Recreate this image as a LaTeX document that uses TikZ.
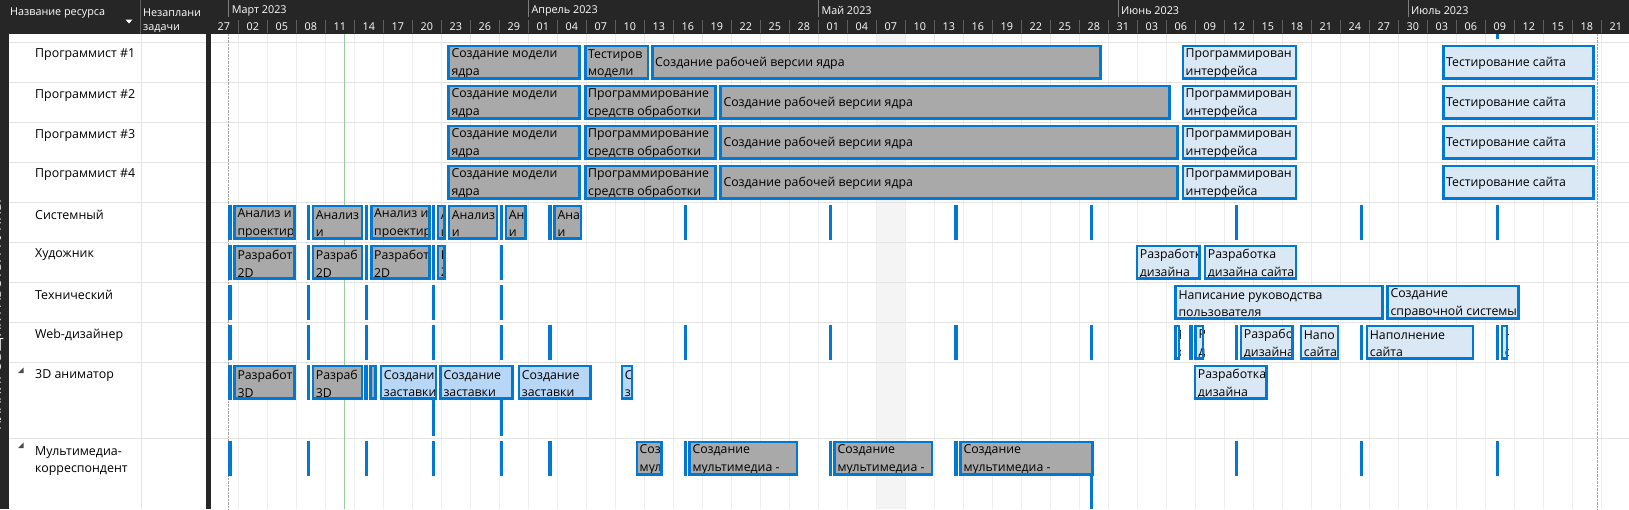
\documentclass[tikz,border=0pt]{standalone}
\usepackage{fontspec}
\setmainfont{Open Sans}
\usepackage{tikz}
\usetikzlibrary{positioning}
\usepackage{xcolor}
\definecolor{hdrdark}{HTML}{262626}
\definecolor{hdrsep}{HTML}{5E5E5E}
\definecolor{gridgray}{HTML}{EDEDED}
\definecolor{rowgray}{HTML}{E4E4E4}
\definecolor{msblue}{HTML}{0078D4}
\definecolor{taskgray}{HTML}{A9A9A9}
\definecolor{tasklight}{HTML}{DAE8F6}
\definecolor{tasksel}{HTML}{B8D6F6}
\definecolor{todaygreen}{HTML}{9ACB9A}
\definecolor{shadecol}{HTML}{F4F4F4}

\newcounter{barno}
% one task bar: left, right, top, fill, text
\newcommand{\taskbar}[5]{%
  \stepcounter{barno}%
  \begin{scope}
    \clip (#1,#3) rectangle (#2,#3+35);
    \fill[#4] (#1,#3) rectangle (#2,#3+35);
    \node[bartext] (bar\thebarno) at (#1+4,#3+19) {#5};
  \end{scope}
  \draw[barline] (#1+1.3,#3+1.3) rectangle (#2-1.3,#3+33.7);
}

\begin{document}
\begin{tikzpicture}[x=1pt, y=-1pt,
  bartext/.style = {anchor=west, inner sep=0, align=left, text=black, font=\fontsize{12.3}{17.5}\selectfont},
  barline/.style = {draw=msblue, line width=2.6pt},
  gray/.style = {fill=taskgray}, light/.style = {fill=tasklight}, sel/.style = {fill=tasksel},
  tick/.style = {draw=msblue, line width=3.3pt},
  hdrtext/.style = {text=white, inner sep=0, font=\fontsize{10.8}{15}\selectfont},
  reslbl/.style = {anchor=west, inner sep=0, align=left, font=\fontsize{12.4}{17.3}\selectfont}]
\useasboundingbox (0,0) rectangle (1629,509);
\fill[white] (0,0) rectangle (1629,509);

% header and dark bars
\fill[hdrdark] (0,0) rectangle (1629,34);
\fill[hdrdark] (0,0) rectangle (9,509);
\fill[hdrdark] (206,0) rectangle (211,509);
\draw[hdrsep] (140.5,0) -- (140.5,34);
\node[hdrtext, anchor=west] (colname) at (10,12.5) {Название ресурса};
\fill[white] (125.5,19.5) -- (132.5,19.5) -- (129,23.5) -- cycle;
\node[hdrtext, anchor=west] (colunsch) at (143,12.5) {Незаплани};
\node[hdrtext, anchor=west] (colunsch2) at (143,28.5) {задачи};
\node[hdrtext, rotate=90, font=\fontsize{14}{16}\selectfont] (viewname) at (-3,315) {ПЛАНИРОВЩИК РАБОТЫ ГРУППЫ};

% timescale
\foreach \x/\m [count=\i] in {228.6/Март 2023, 528.3/Апрель 2023, 818.3/Май 2023, 1118/Июнь 2023, 1408/Июль 2023} {
  \draw[hdrsep!80!white] (\x,0) -- (\x,17);
  \node[hdrtext, anchor=west] (mon\i) at (\x+3,10.5) {\m};
}
\foreach \k in {0,...,47}
  \draw[hdrsep] (238.3+29*\k,20) -- (238.3+29*\k,33);
\foreach \d [count=\i from 0] in {27,02,05,08,11,14,17,20,23,26,29,01,04,07,10,13,16,19,22,25,28,01,04,07,10,13,16,19,22,25,28,31,03,06,09,12,15,18,21,24,27,30,03,06,09,12,15,18,21}
  \node[hdrtext] (day\i) at (223.8+29*\i,26.5) {\d};

% grid
\fill[shadecol] (876.3,34) rectangle (905.3,509);
\foreach \k in {0,...,47}
  \draw[gridgray] (238.3+29*\k,34) -- (238.3+29*\k,509);
\foreach \y in {41.7,81.7,121.7,161.7,201.7,241.7,281.7,321.7,361.7,437.7} {
  \draw[rowgray] (9,\y) -- (206,\y);
  \draw[rowgray] (211,\y) -- (1629,\y);
}
\draw[rowgray] (140.7,34) -- (140.7,509);
\draw[todaygreen] (344,34) -- (344,509);
\draw[gray!70, densely dotted] (228.6,34) -- (228.6,509);
\draw[gray!70, densely dotted] (1596.7,34) -- (1596.7,509);

% resources
\node[reslbl] (res0) at (35,55) {Программист \#1};
\node[reslbl] (res1) at (35,95) {Программист \#2};
\node[reslbl] (res2) at (35,135) {Программист \#3};
\node[reslbl] (res3) at (35,175) {Программист \#4};
\node[reslbl] (res4) at (35,215) {Системный};
\node[reslbl] (res5) at (35,255) {Художник};
\node[reslbl] (res6) at (35,295) {Технический};
\node[reslbl] (res7) at (35,335) {Web-дизайнер};
\node[reslbl] (res8) at (35,375) {3D аниматор};
\node[reslbl] (res9) at (35,461) {Мультимедиа-\\корреспондент};
\fill[black!70] (18,373) -- (23.5,373) -- (23.5,367.5) -- cycle;
\fill[black!70] (18,448) -- (23.5,448) -- (23.5,442.5) -- cycle;

% ticks
\draw[tick] (1497.3,34) -- (1497.3,38.5);
\foreach \x in {230,308.3,366.5,433.3,501.5,550,685.3,830.3,956,1091.3,1236.3,1361.7,1497.3}
  \draw[tick] (\x,204.7) -- (\x,239.7);
\foreach \x in {230,308.3,366.5,433.3,501.5}
  \draw[tick] (\x,244.7) -- (\x,279.7);
\foreach \x in {230,308.3,366.5,433.3,501.5}
  \draw[tick] (\x,284.7) -- (\x,319.7);
\foreach \x in {230,308.3,366.5,433.3,501.5,550,685.3,830.3,956,1091.3,1191,1236.3,1361.7,1497.3}
  \draw[tick] (\x,324.7) -- (\x,359.7);
\foreach \x in {230,308.3,366}
  \draw[tick] (\x,364.7) -- (\x,399.7);
\foreach \x in {433.3,501.5}
  \draw[tick] (\x,364.7) -- (\x,435.7);
\foreach \x in {230,308.3,366.5,433.3,501.5,550,685.3,830.3,956,1236.3,1361.7,1497.3}
  \draw[tick] (\x,440.7) -- (\x,475.7);
\draw[tick] (1091.3,440.7) -- (1091.3,509);

% Программист #1
\taskbar{447.3}{581}{44.7}{gray}{Создание модели\\ядра}
\taskbar{584}{649.3}{44.7}{gray}{Тестиров\\модели}
\taskbar{651}{1102}{44.7}{gray}{Создание рабочей версии ядра}
\taskbar{1181.5}{1297.3}{44.7}{light}{Программирован\\интерфейса}
\taskbar{1442}{1595}{44.7}{light}{Тестирование сайта}
% Программист #2
\taskbar{447.3}{581}{84.7}{gray}{Создание модели\\ядра}
\taskbar{584}{717}{84.7}{gray}{Программирование\\средств обработки}
\taskbar{719.3}{1171}{84.7}{gray}{Создание рабочей версии ядра}
\taskbar{1181.5}{1297.3}{84.7}{light}{Программирован\\интерфейса}
\taskbar{1442}{1595}{84.7}{light}{Тестирование сайта}
% Программист #3
\taskbar{447.3}{581}{124.7}{gray}{Создание модели\\ядра}
\taskbar{584}{717}{124.7}{gray}{Программирование\\средств обработки}
\taskbar{719.3}{1179}{124.7}{gray}{Создание рабочей версии ядра}
\taskbar{1181.5}{1297.3}{124.7}{light}{Программирован\\интерфейса}
\taskbar{1442}{1595}{124.7}{light}{Тестирование сайта}
% Программист #4
\taskbar{447.3}{581}{164.7}{gray}{Создание модели\\ядра}
\taskbar{584}{717}{164.7}{gray}{Программирование\\средств обработки}
\taskbar{719.3}{1179}{164.7}{gray}{Создание рабочей версии ядра}
\taskbar{1181.5}{1297.3}{164.7}{light}{Программирован\\интерфейса}
\taskbar{1442}{1595}{164.7}{light}{Тестирование сайта}
% Системный
\taskbar{233.3}{295.7}{204.7}{gray}{Анализ и\\проектир}
\taskbar{311.7}{363.3}{204.7}{gray}{Анализ\\и}
\taskbar{370}{430.7}{204.7}{gray}{Анализ и\\проектир}
\taskbar{436.7}{445.7}{204.7}{gray}{А\\и}
\taskbar{447.7}{498.3}{204.7}{gray}{Анализ\\и}
\taskbar{504.7}{526.7}{204.7}{gray}{Ан\\и}
\taskbar{553.3}{582.3}{204.7}{gray}{Ана\\и}
% Художник
\taskbar{233.3}{295.7}{244.7}{gray}{Разработ\\2D}
\taskbar{311.7}{363.3}{244.7}{gray}{Разраб\\2D}
\taskbar{370}{430.7}{244.7}{gray}{Разработ\\2D}
\taskbar{436.7}{445.7}{244.7}{gray}{Р\\2}
\taskbar{1135.7}{1201}{244.7}{light}{Разработк\\дизайна}
\taskbar{1203.7}{1297.3}{244.7}{light}{Разработка\\дизайна сайта}
% Технический
\taskbar{1174.3}{1384}{284.7}{light}{Написание руководства\\пользователя}
\taskbar{1386.3}{1520}{284.7}{light}{Создание\\справочной системы}
% Web-дизайнер
\taskbar{1174.3}{1180.3}{324.7}{light}{Р\\с}
\taskbar{1194.3}{1204.3}{324.7}{light}{Р\\д}
\taskbar{1239.7}{1294}{324.7}{light}{Разрабо\\дизайна}
\taskbar{1299.7}{1339.3}{324.7}{light}{Напо\\сайта}
\taskbar{1365.7}{1474.3}{324.7}{light}{Наполнение\\сайта}
\taskbar{1500.7}{1508.3}{324.7}{light}{Н\\с}
% 3D аниматор
\taskbar{233.3}{295.7}{364.7}{gray}{Разработ\\3D}
\taskbar{311.7}{363.3}{364.7}{gray}{Разраб\\3D}
\taskbar{369.3}{376.7}{364.7}{gray}{Р\\3}
\taskbar{379.7}{437.3}{364.7}{sel}{Создани\\заставки}
\taskbar{439.3}{514}{364.7}{sel}{Создание\\заставки}
\taskbar{517.7}{591.7}{364.7}{sel}{Создание\\заставки}
\taskbar{620.7}{633.3}{364.7}{sel}{С\\з}
\taskbar{1193.7}{1268}{364.7}{light}{Разработка\\дизайна}
% Мультимедиа-корреспондент
\taskbar{635.5}{662.5}{440.7}{gray}{Соз\\мул}
\taskbar{688.3}{798.3}{440.7}{gray}{Создание\\мультимедиа -}
\taskbar{833.3}{933.3}{440.7}{gray}{Создание\\мультимедиа -}
\taskbar{959.3}{1094}{440.7}{gray}{Создание\\мультимедиа -}
\end{tikzpicture}
\end{document}
